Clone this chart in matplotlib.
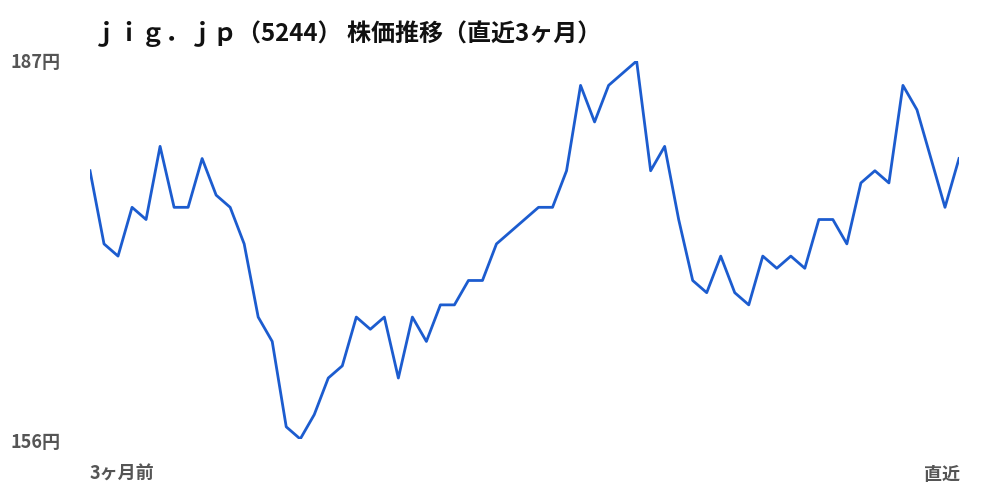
import matplotlib
matplotlib.use('Agg')
import matplotlib.pyplot as plt

plt.rcParams['font.family'] = ['Noto Sans CJK JP', 'DejaVu Sans']

# 株価（円）、3ヶ月前 → 直近
prices = [178, 172, 171, 175, 174, 180, 175, 175, 179, 176,
          175, 172, 166, 164, 157, 156, 158, 161, 162, 166,
          165, 166, 161, 166, 164, 167, 167, 169, 169, 172,
          173, 174, 175, 175, 178, 185, 182, 185, 186, 187,
          178, 180, 174, 169, 168, 171, 168, 167, 171, 170,
          171, 170, 174, 174, 172, 177, 178, 177, 185, 183,
          179, 175, 179]
title = 'ｊｉｇ．ｊｐ（5244） 株価推移（直近3ヶ月）'
x_labels = ['3ヶ月前', '直近']

fig = plt.figure(figsize=(10, 5), dpi=100)
ax = fig.add_axes([0.09, 0.122, 0.869, 0.756])
ax.plot(range(len(prices)), prices, color='#1c5ccf', linewidth=2.0)
ax.set_xlim(0, len(prices) - 1)
ax.set_ylim(min(prices), max(prices))
ax.axis('off')

# タイトル
fig.text(0.093, 0.933, title, fontsize=17.3, fontweight='bold',
         color='#111111', ha='left', va='center')

# Y軸ラベル（最大・最小）
fig.text(0.01, 1 - 62 / 500, f'{max(prices)}円', fontsize=13, fontweight='bold',
         color='#555555', ha='left', va='center')
fig.text(0.01, 1 - 442 / 500, f'{min(prices)}円', fontsize=13, fontweight='bold',
         color='#555555', ha='left', va='center')

# X軸ラベル
fig.text(0.09, 1 - 474 / 500, x_labels[0], fontsize=13, fontweight='bold',
         color='#555555', ha='left', va='center')
fig.text(0.96, 1 - 474 / 500, x_labels[1], fontsize=13, fontweight='bold',
         color='#555555', ha='right', va='center')

fig.savefig('out.png', dpi=100)
